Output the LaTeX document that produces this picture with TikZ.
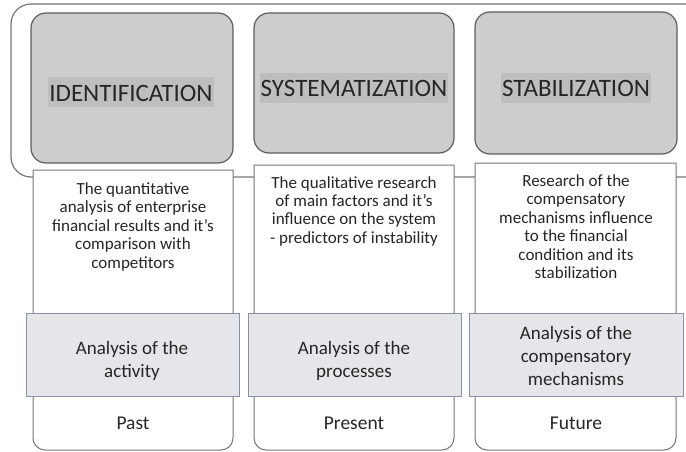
\documentclass[tikz,border=0pt]{standalone}
\usepackage{fontspec}
\setmainfont{Carlito}
\definecolor{txt}{HTML}{262626}
\definecolor{edge}{HTML}{5E5E5E}
\definecolor{topfill}{HTML}{CDCDCD}
\definecolor{hl}{HTML}{BEBEBE}
\definecolor{bandfill}{HTML}{E6E6EA}
\definecolor{bandedge}{HTML}{8892AA}
\tikzset{
  outerbox/.style={draw=edge!85, line width=1.2pt, rounded corners=20pt},
  topbox/.style={draw=edge, fill=topfill, line width=1.2pt, rounded corners=15pt},
  colbox/.style={draw=edge!85, fill=white, line width=1pt},
  band/.style={draw=bandedge, fill=bandfill, line width=1pt},
  title/.style={font=\fontsize{25}{30}\selectfont, text=txt, fill=hl, inner xsep=1pt, inner ysep=0pt, text height=24pt, text depth=6pt, anchor=base},
  desc/.style={font=\fontsize{17}{18.4}\selectfont, text=txt, align=center, inner sep=0pt, anchor=north},
  bandtxt/.style={font=\fontsize{19}{23}\selectfont, text=txt, align=center, inner sep=0pt, anchor=north},
  when/.style={font=\fontsize{19.5}{23}\selectfont, text=txt, inner sep=0pt, anchor=base}
}
\begin{document}
\begin{tikzpicture}[x=1pt,y=-1pt]
\useasboundingbox (0,0) rectangle (686,452);
\clip (0,0) rectangle (686,452);
% outer frame
\draw[outerbox] (11,4) rectangle (706,177);
% column boxes (square top, rounded bottom)
\filldraw[colbox] (33,170) -- (33,438) arc[start angle=180, end angle=90, radius=12] -- (221,450) arc[start angle=90, end angle=0, radius=12] -- (233,170) -- cycle;
\filldraw[colbox] (254,165) -- (254,438) arc[start angle=180, end angle=90, radius=12] -- (442,450) arc[start angle=90, end angle=0, radius=12] -- (454,165) -- cycle;
\filldraw[colbox] (475,163) -- (475,438) arc[start angle=180, end angle=90, radius=12] -- (664,450) arc[start angle=90, end angle=0, radius=12] -- (676,163) -- cycle;
% top boxes
\draw[topbox] (31,13) rectangle (233,163);
\draw[topbox] (254,13) rectangle (454,153);
\draw[topbox] (475,12) rectangle (677,154);
% bands
\draw[band] (26,313) rectangle (239,396);
\draw[band] (248,313) rectangle (461,396);
\draw[band] (469,313) rectangle (683,396);
% titles
\node[title] (t1) at (131,101.5) {IDENTIFICATION};
\node[title] (t2) at (354,97) {SYSTEMATIZATION};
\node[title] (t3) at (576,97) {STABILIZATION};
% descriptions
\node[desc] (d1) at (133,182.5) {The quantitative\\analysis of enterprise\\financial results and it's\\comparison with\\competitors};
\node[desc] (d2) at (354,176) {The qualitative research\\of main factors and it's\\influence on the system\\- predictors of instability};
\node[desc] (d3) at (576,174.5) {Research of the\\compensatory\\mechanisms influence\\to the financial\\condition and its\\stabilization};
% band texts
\node[bandtxt] (b1) at (132,341) {Analysis of the\\activity};
\node[bandtxt] (b2) at (354,341) {Analysis of the\\processes};
\node[bandtxt] (b3) at (576,326) {Analysis of the\\compensatory\\mechanisms};
% time labels
\node[when] (p1) at (133,429) {Past};
\node[when] (p2) at (354,429) {Present};
\node[when] (p3) at (576,429) {Future};
\end{tikzpicture}
\end{document}
